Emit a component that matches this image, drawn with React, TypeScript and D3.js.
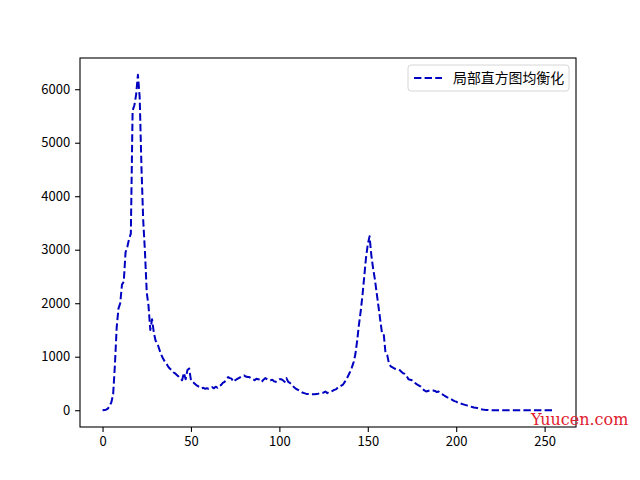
import { useEffect, useRef } from 'react'
import * as d3 from 'd3'

// histogram counts for gray levels 0..255
const counts: number[] = [
  0, 5, 10, 30, 80, 150, 300, 850, 1550, 1900,
  2000, 2350, 2400, 2950, 3050, 3200, 3300, 5600, 5700, 5900,
  6270, 5850, 4550, 3550, 2950, 2200, 1950, 1500, 1700, 1450,
  1300, 1250, 1150, 1050, 980, 920, 880, 820, 780, 750,
  710, 690, 660, 630, 600, 560, 700, 580, 750, 780,
  560, 530, 500, 470, 450, 430, 410, 420, 400, 410,
  400, 420, 430, 410, 440, 420, 460, 470, 510, 530,
  580, 620, 600, 590, 530, 560, 580, 600, 620, 640,
  650, 630, 620, 620, 600, 580, 560, 590, 580, 570,
  530, 570, 600, 580, 560, 560, 570, 540, 530, 560,
  580, 580, 560, 530, 600, 530, 510, 480, 440, 410,
  390, 370, 350, 330, 320, 310, 305, 300, 300, 300,
  300, 305, 310, 320, 320, 330, 350, 320, 340, 340,
  360, 380, 390, 420, 440, 460, 480, 530, 580, 650,
  720, 800, 900, 1050, 1300, 1600, 1850, 2150, 2500, 2850,
  3100, 3250, 2900, 2650, 2450, 2200, 1950, 1700, 1450, 1430,
  1080, 1030, 870, 820, 800, 780, 770, 760, 750, 720,
  690, 680, 640, 580, 570, 560, 540, 500, 480, 460,
  440, 400, 370, 350, 360, 370, 370, 370, 360, 340,
  350, 320, 300, 280, 260, 240, 230, 210, 190, 170,
  160, 140, 130, 120, 110, 100, 90, 80, 70, 60,
  50, 45, 40, 30, 20, 12, 8, 5, 3, 0,
  0, 0, 0, 0, 0, 0, 0, 0, 0, 0,
  0, 0, 0, 0, 0, 0, 0, 0, 0, 0,
  0, 0, 0, 0, 0, 0, 0, 0, 0, 0,
  0, 0, 0, 0, 0, 0,
]
const xTicks = [0, 50, 100, 150, 200, 250]
const yTicks = [0, 1000, 2000, 3000, 4000, 5000, 6000]
const seriesLabel = '局部直方图均衡化'
const watermark = 'Yuucen.com'

const W = 640
const H = 480
const margin = { top: 58, right: 64, bottom: 53, left: 80 }
const lineColor = '#0000c0'
const font = '"Noto Sans CJK SC", "DejaVu Sans", sans-serif'

export default function App() {
  const svgRef = useRef<SVGSVGElement>(null)

  useEffect(() => {
    if (!svgRef.current) return
    const svg = d3.select(svgRef.current)
    svg.selectAll('*').remove()

    const innerW = W - margin.left - margin.right
    const innerH = H - margin.top - margin.bottom

    // matplotlib-style 5% padding around the data
    const xMax = counts.length - 1
    const yMax = d3.max(counts) as number
    const x = d3.scaleLinear()
      .domain([-0.05 * xMax, 1.05 * xMax])
      .range([0, innerW])
    const y = d3.scaleLinear()
      .domain([-0.05 * yMax, 1.05 * yMax])
      .range([innerH, 0])

    svg.append('rect').attr('width', W).attr('height', H).attr('fill', '#fff')

    const g = svg.append('g')
      .attr('transform', `translate(${margin.left},${margin.top})`)

    const line = d3.line<number>()
      .x((_, i) => x(i))
      .y(d => y(d))

    g.append('path')
      .datum(counts)
      .attr('d', line)
      .attr('fill', 'none')
      .attr('stroke', lineColor)
      .attr('stroke-width', 2)
      .attr('stroke-dasharray', '7.4,3.2')
      .attr('stroke-linejoin', 'round')

    // frame
    g.append('rect')
      .attr('width', innerW)
      .attr('height', innerH)
      .attr('fill', 'none')
      .attr('stroke', '#000')
      .attr('stroke-width', 1.1)

    const xAxis = g.append('g')
      .attr('transform', `translate(0,${innerH})`)
      .call(d3.axisBottom(x).tickValues(xTicks).tickFormat(d3.format('d')).tickSize(4.9).tickPadding(4.9))
    const yAxis = g.append('g')
      .call(d3.axisLeft(y).tickValues(yTicks).tickFormat(d3.format('d')).tickSize(4.9).tickPadding(4.9))

    for (const ax of [xAxis, yAxis]) {
      ax.select('.domain').remove()
      ax.selectAll('line').attr('stroke', '#000').attr('stroke-width', 1.1)
      ax.selectAll('text')
        .attr('fill', '#000')
        .style('font-family', font)
        .style('font-size', '13px')
    }

    // legend
    const lg = g.append('g').attr('transform', `translate(${innerW - 168},7)`)
    lg.append('rect')
      .attr('width', 161)
      .attr('height', 26)
      .attr('rx', 3)
      .attr('fill', '#fff')
      .attr('fill-opacity', 0.8)
      .attr('stroke', '#d6d6d6')
    lg.append('line')
      .attr('x1', 6).attr('x2', 34)
      .attr('y1', 13).attr('y2', 13)
      .attr('stroke', lineColor)
      .attr('stroke-width', 2)
      .attr('stroke-dasharray', '7.4,3.2')
    lg.append('text')
      .attr('x', 45)
      .attr('y', 13)
      .attr('dy', '0.35em')
      .style('font-family', font)
      .style('font-size', '13.9px')
      .attr('fill', '#000')
      .text(seriesLabel)

    // watermark
    svg.append('text')
      .attr('x', 531)
      .attr('y', 425)
      .style('font-family', '"DejaVu Serif", "Liberation Serif", serif')
      .style('font-size', '16px')
      .attr('fill', '#e0202e')
      .text(watermark)
  }, [])

  return (
    <div style={{ position: 'fixed', left: 0, top: 0 }}>
      <svg ref={svgRef} width={W} height={H} style={{ display: 'block' }} />
    </div>
  )
}
